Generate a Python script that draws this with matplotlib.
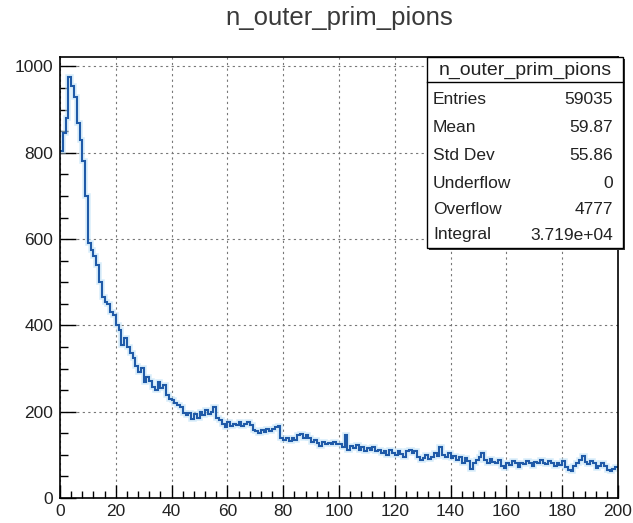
import numpy as np
import matplotlib.pyplot as plt
from matplotlib.patches import Rectangle
from matplotlib.ticker import MultipleLocator

plt.rcParams['font.family'] = ['Liberation Sans', 'DejaVu Sans']

title = "n_outer_prim_pions"

# bin contents, one bin per unit from 0 to 200
counts = [
    805, 845, 880, 975, 955, 930, 870, 830, 780, 700,
    590, 575, 560, 540, 500, 465, 455, 450, 432, 425,
    400, 390, 355, 370, 350, 335, 325, 305, 292, 302,
    268, 280, 272, 258, 250, 268, 256, 262, 238, 230,
    228, 220, 215, 210, 198, 192, 196, 182, 195, 185,
    200, 192, 205, 195, 200, 212, 185, 180, 172, 165,
    175, 168, 172, 170, 175, 168, 172, 176, 170, 158,
    155, 150, 158, 152, 160, 155, 160, 165, 168, 140,
    135, 138, 132, 140, 135, 145, 148, 140, 145, 138,
    130, 135, 128, 120, 130, 126, 128, 124, 130, 126,
    125, 118, 145, 112, 120, 115, 122, 112, 118, 110,
    115, 112, 118, 108, 112, 105, 110, 100, 112, 104,
    100, 108, 102, 96, 108, 112, 105, 110, 95, 88,
    92, 100, 90, 95, 105, 98, 118, 100, 96, 104,
    92, 98, 88, 95, 80, 92, 85, 68, 80, 88,
    95, 105, 88, 82, 90, 84, 80, 88, 74, 70,
    82, 76, 85, 80, 72, 82, 78, 86, 82, 75,
    84, 80, 88, 82, 78, 85, 80, 74, 82, 76,
    85, 72, 66, 62, 75, 80, 88, 98, 84, 78,
    86, 80, 70, 74, 82, 75, 64, 62, 68, 72,
]
edges = np.arange(0, 201)

stat_names = ["Entries", "Mean", "Std Dev", "Underflow", "Overflow", "Integral"]
stat_values = ["59035", "59.87", "55.86", "0", "4777", "3.719e+04"]

W, H = 633, 523
fig = plt.figure(figsize=(W / 100, H / 100), dpi=100)
ax = fig.add_axes([60 / W, (H - 498) / H, (618 - 60) / W, (498 - 57) / H])

ax.stairs(counts, edges, baseline=None, color='#bfe2f8', lw=4, alpha=0.6)
ax.stairs(counts, edges, baseline=None, color='#1f5aa8', lw=1.5)

ax.set_xlim(0, 200)
ax.set_ylim(0, 1022)
ax.xaxis.set_major_locator(MultipleLocator(20))
ax.xaxis.set_minor_locator(MultipleLocator(4))
ax.yaxis.set_major_locator(MultipleLocator(200))
ax.yaxis.set_minor_locator(MultipleLocator(50))
ax.grid(True, which='major', color='#777777', ls=(0, (2, 3)), lw=0.8)
ax.set_axisbelow(True)

ax.tick_params(axis='both', which='both', direction='in', colors='black',
               labelcolor='#222222', labelsize=12.5, width=1)
ax.tick_params(axis='y', which='major', length=11.5, pad=5)
ax.tick_params(axis='y', which='minor', length=5.8)
ax.tick_params(axis='x', which='major', length=9.4, pad=4)
ax.tick_params(axis='x', which='minor', length=4.7)
for s in ax.spines.values():
    s.set_linewidth(1.2)

fig.text(339 / W, 1 - 18 / H, title, ha='center', va='center',
         fontsize=18.5, color='#3a3a3a')

# stats box (figure pixel coords)
bx0, bx1, by0, by1 = 427, 623, 57, 248
def fx(px):
    return px / W
def fy(py):
    return 1 - py / H

fig.patches.append(Rectangle((fx(bx0 + 2), fy(by1 + 2)), fx(bx1 - bx0), (by1 - by0) / H,
                             transform=fig.transFigure, facecolor='#333333',
                             edgecolor='none', zorder=5))
fig.patches.append(Rectangle((fx(bx0), fy(by1)), fx(bx1 - bx0), (by1 - by0) / H,
                             transform=fig.transFigure, facecolor='white',
                             edgecolor='black', lw=1, zorder=6))
fig.add_artist(plt.Line2D([fx(bx0), fx(bx1)], [fy(82), fy(82)],
                          transform=fig.transFigure, color='black', lw=1, zorder=7))
fig.text(fx((bx0 + bx1) / 2), fy(70), title, ha='center', va='center',
         fontsize=14, color='#222222', zorder=8)
row_y = [99, 127, 155, 183, 210, 235]
for name, val, ry in zip(stat_names, stat_values, row_y):
    fig.text(fx(bx0 + 6), fy(ry), name, ha='left', va='center',
             fontsize=12.5, color='#222222', zorder=8)
    fig.text(fx(bx1 - 10), fy(ry), val, ha='right', va='center',
             fontsize=12.5, color='#222222', zorder=8)

fig.savefig('out.png', dpi=100, facecolor='white')
